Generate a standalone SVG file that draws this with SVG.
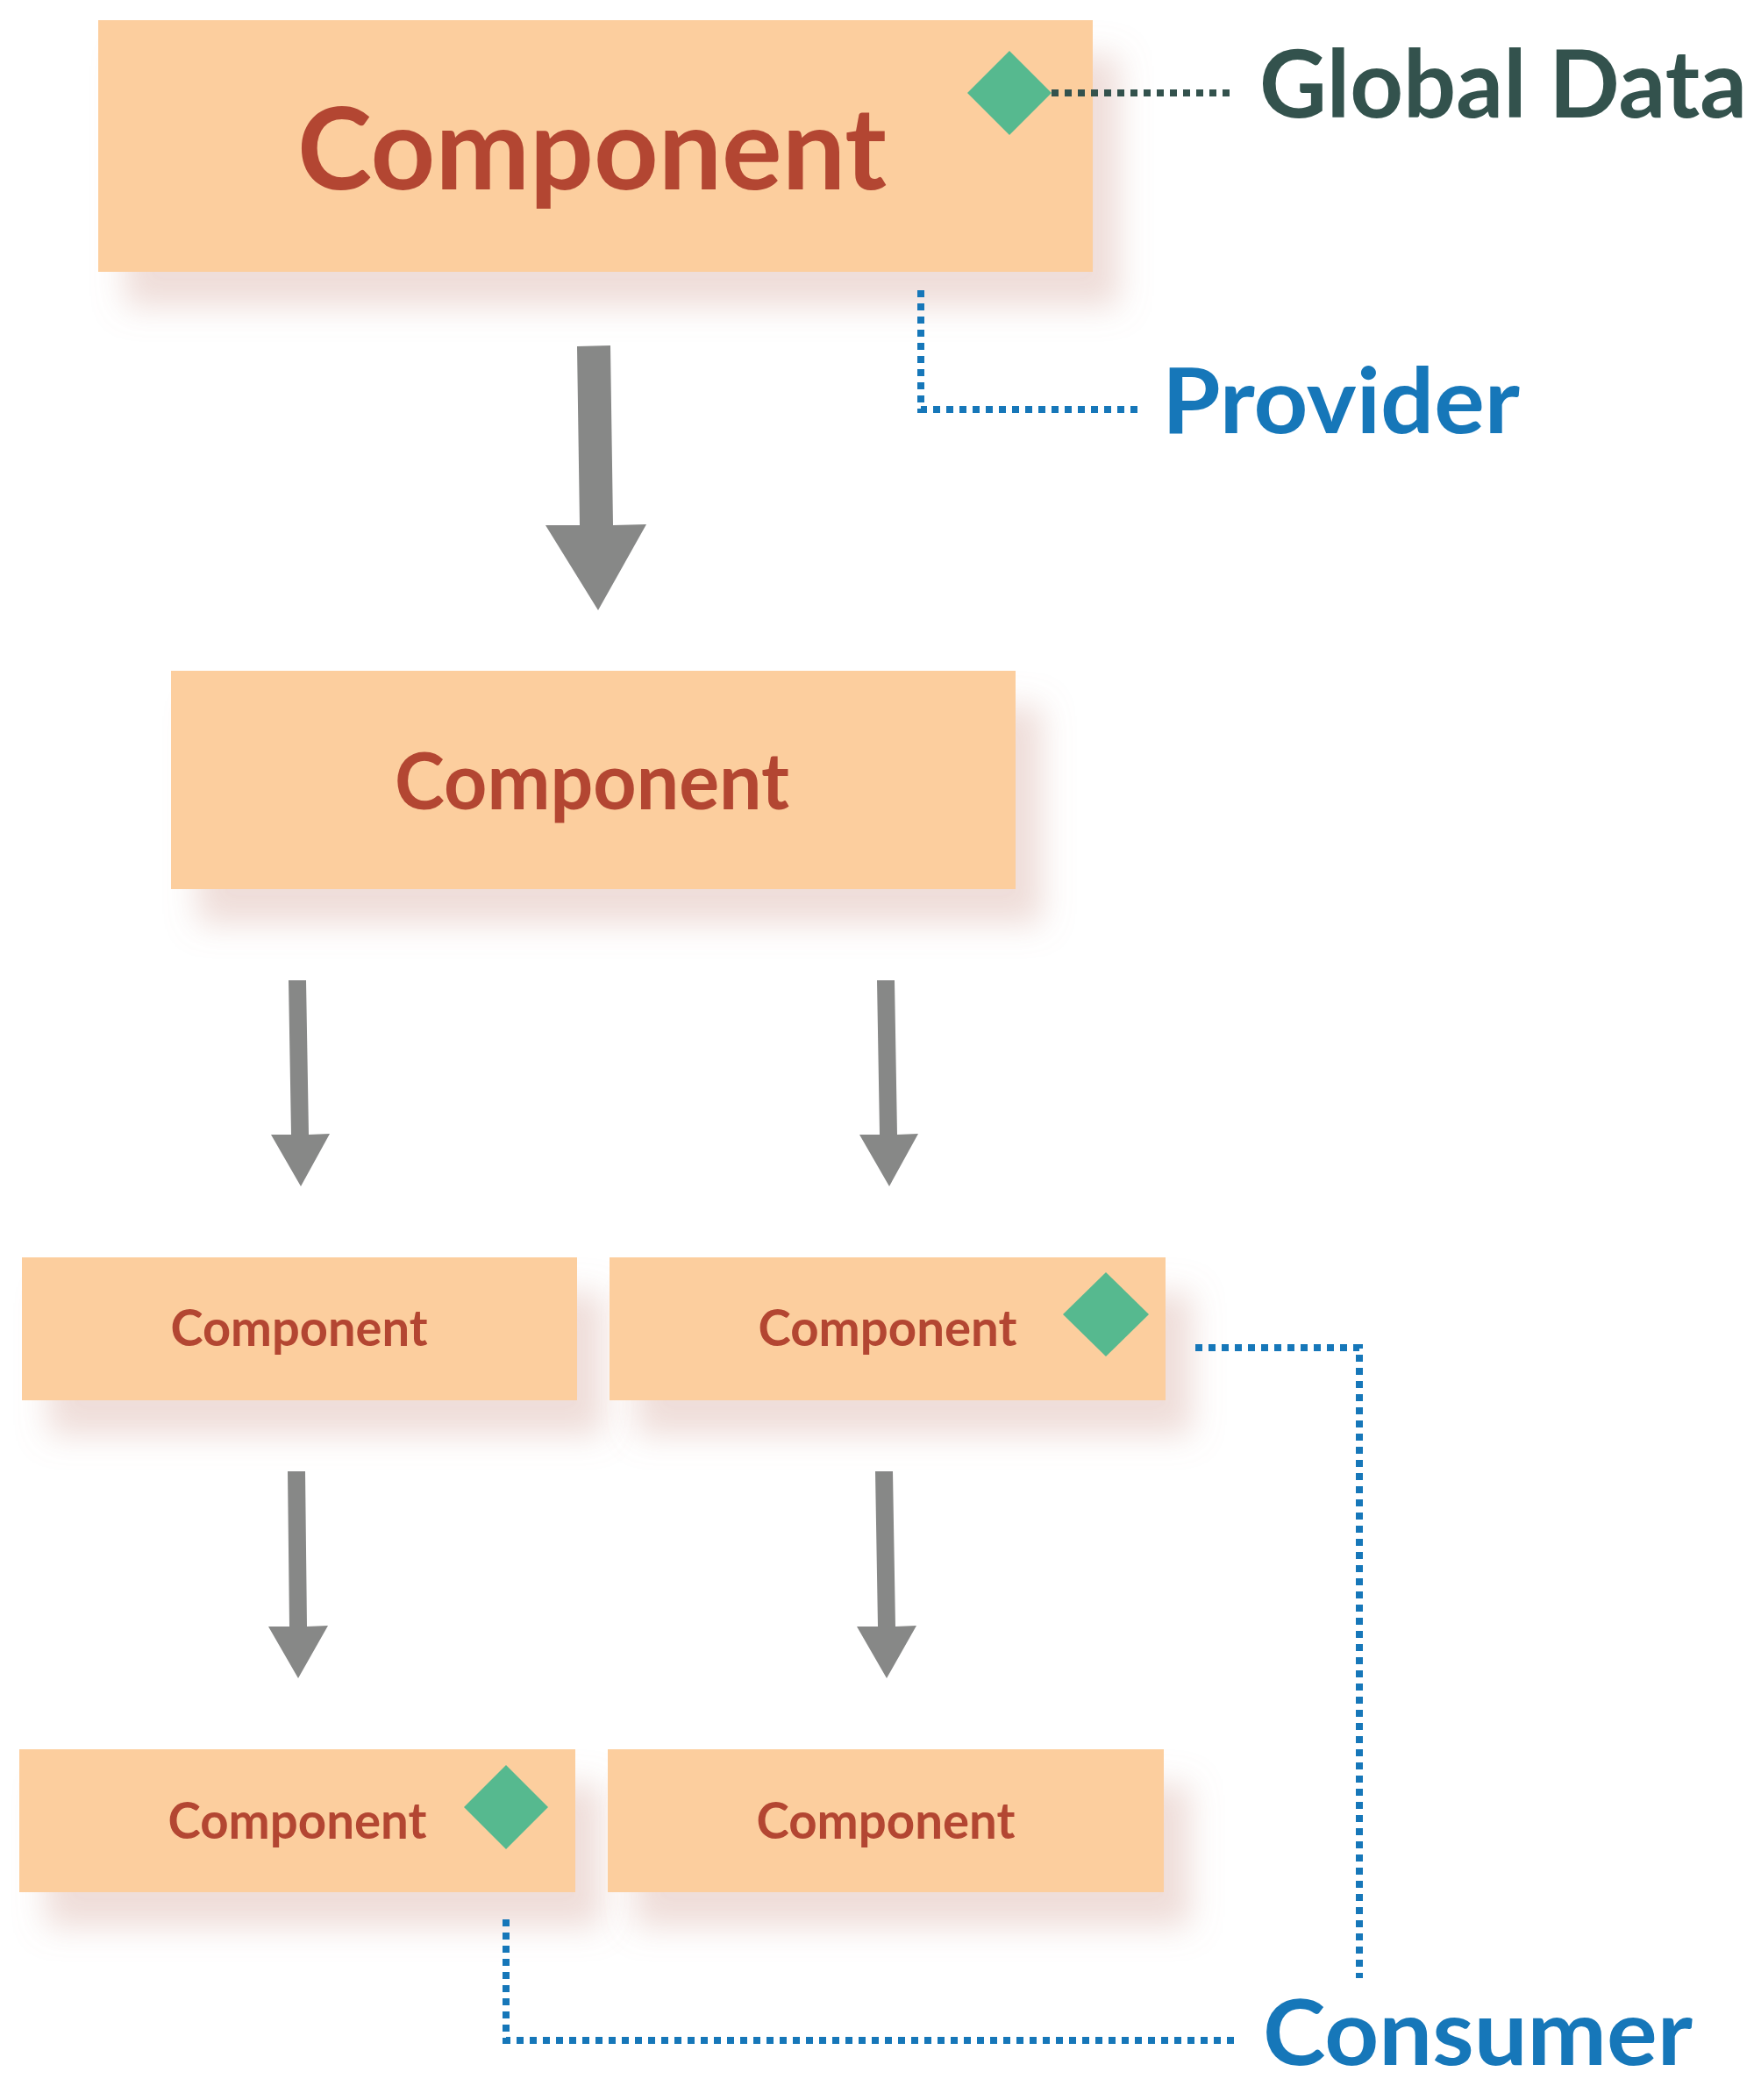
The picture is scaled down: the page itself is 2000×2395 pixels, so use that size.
<svg xmlns="http://www.w3.org/2000/svg" width="2000" height="2395" viewBox="0 0 2000 2395">
<defs>
<filter id="sh" x="-20%" y="-30%" width="150%" height="180%">
<feDropShadow dx="30" dy="40" stdDeviation="18" flood-color="#c98f80" flood-opacity="0.3"/>
</filter>
<style>
.box{fill:#fcce9e;filter:url(#sh)}
.lbl{font-family:Lato,"Liberation Sans",sans-serif;font-weight:bold;fill:#b34632;text-anchor:middle}
.dia{fill:#56b98f}
.arr{fill:#878887}
.dot{fill:none;stroke:#1677b9;stroke-width:8;stroke-dasharray:8 7}
.dotg{fill:none;stroke:#33524d;stroke-width:8;stroke-dasharray:8 7}
.note{font-family:Lato,"Liberation Sans",sans-serif;font-weight:bold}
</style>
</defs>
<rect width="2000" height="2395" fill="#ffffff"/>
<g id="node-root">
<rect class="box" x="112" y="23" width="1134" height="287"/>
<text class="lbl" x="675" y="216" font-size="131" textLength="672" lengthAdjust="spacingAndGlyphs">Component</text>
<polygon class="dia" points="1151,58 1199,106 1151,154 1103,106"/>
</g>
<g id="node-mid">
<rect class="box" x="195" y="765" width="963" height="249"/>
<text class="lbl" x="675" y="923" font-size="90" textLength="450" lengthAdjust="spacingAndGlyphs">Component</text>
</g>
<g id="node-l3a">
<rect class="box" x="25" y="1434" width="633" height="163"/>
<text class="lbl" x="341" y="1535" font-size="57" textLength="293" lengthAdjust="spacingAndGlyphs">Component</text>
</g>
<g id="node-l3b">
<rect class="box" x="695" y="1434" width="634" height="163"/>
<text class="lbl" x="1012" y="1535" font-size="57" textLength="295" lengthAdjust="spacingAndGlyphs">Component</text>
<polygon class="dia" points="1261,1451 1310,1499 1261,1547 1212,1499"/>
</g>
<g id="node-l5a">
<rect class="box" x="22" y="1995" width="634" height="163"/>
<text class="lbl" x="339" y="2097" font-size="57" textLength="295" lengthAdjust="spacingAndGlyphs">Component</text>
<polygon class="dia" points="577,2013 625,2061 577,2109 529,2061"/>
</g>
<g id="node-l5b">
<rect class="box" x="693" y="1995" width="634" height="163"/>
<text class="lbl" x="1010" y="2097" font-size="57" textLength="295" lengthAdjust="spacingAndGlyphs">Component</text>
</g>
<g id="connectors">
<polygon class="arr" points="658,395 696,394 699,599 737,598 682,696 622,599 661,599"/>
<polygon class="arr" points="329,1118 349,1118 352,1294 376,1293 343,1353 309,1294 332,1294"/>
<polygon class="arr" points="1000,1118 1020,1118 1023,1294 1047,1293 1014,1353 980,1294 1003,1294"/>
<polygon class="arr" points="328,1678 348,1678 350,1855 374,1854 340,1914 306,1855 330,1855"/>
<polygon class="arr" points="998,1678 1018,1678 1021,1855 1045,1854 1011,1914 977,1855 1001,1855"/>
<path class="dotg" d="M1199,106 H1408"/>
<path class="dot" d="M1050,331 V467 H1300"/>
<path class="dot" d="M1363,1537 H1550 V2256"/>
<path class="dot" d="M577,2189 V2327 H1408"/>
</g>
<g id="labels">
<text class="note" x="1436" y="134" font-size="107" fill="#33524d" textLength="556" lengthAdjust="spacingAndGlyphs">Global Data</text>
<text class="note" x="1325" y="494" font-size="104" fill="#1677b9" textLength="408" lengthAdjust="spacingAndGlyphs">Provider</text>
<text class="note" x="1440" y="2355" font-size="104" fill="#1677b9" textLength="490" lengthAdjust="spacingAndGlyphs">Consumer</text>
</g>
</svg>
